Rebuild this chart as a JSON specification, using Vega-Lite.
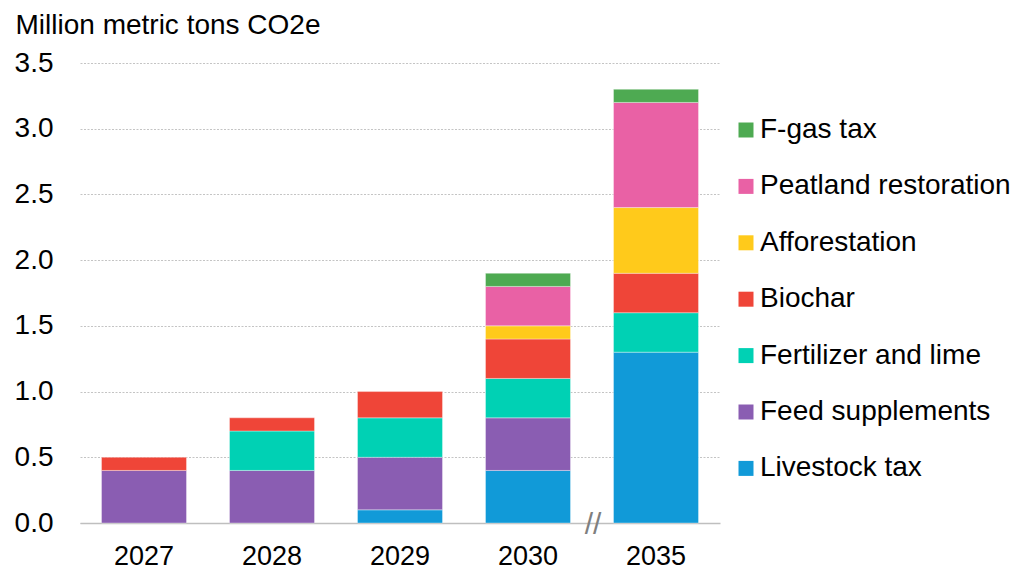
{
  "$schema": "https://vega.github.io/schema/vega-lite/v6.json",
  "autosize": {"type": "none"},
  "width": 640,
  "height": 460,
  "padding": {"left": 80, "top": 63, "right": 306, "bottom": 46},
  "background": "white",
  "config": {
    "view": {"stroke": null},
    "font": "Liberation Sans"
  },
  "layer": [
    {
      "data": {
        "values": [
          {"year": "2027", "category": "Feed supplements", "rank": 2, "value": 0.4},
          {"year": "2027", "category": "Biochar", "rank": 4, "value": 0.1},
          {"year": "2028", "category": "Feed supplements", "rank": 2, "value": 0.4},
          {"year": "2028", "category": "Fertilizer and lime", "rank": 3, "value": 0.3},
          {"year": "2028", "category": "Biochar", "rank": 4, "value": 0.1},
          {"year": "2029", "category": "Livestock tax", "rank": 1, "value": 0.1},
          {"year": "2029", "category": "Feed supplements", "rank": 2, "value": 0.4},
          {"year": "2029", "category": "Fertilizer and lime", "rank": 3, "value": 0.3},
          {"year": "2029", "category": "Biochar", "rank": 4, "value": 0.2},
          {"year": "2030", "category": "Livestock tax", "rank": 1, "value": 0.4},
          {"year": "2030", "category": "Feed supplements", "rank": 2, "value": 0.4},
          {"year": "2030", "category": "Fertilizer and lime", "rank": 3, "value": 0.3},
          {"year": "2030", "category": "Biochar", "rank": 4, "value": 0.3},
          {"year": "2030", "category": "Afforestation", "rank": 5, "value": 0.1},
          {"year": "2030", "category": "Peatland restoration", "rank": 6, "value": 0.3},
          {"year": "2030", "category": "F-gas tax", "rank": 7, "value": 0.1},
          {"year": "2035", "category": "Livestock tax", "rank": 1, "value": 1.3},
          {"year": "2035", "category": "Fertilizer and lime", "rank": 3, "value": 0.3},
          {"year": "2035", "category": "Biochar", "rank": 4, "value": 0.3},
          {"year": "2035", "category": "Afforestation", "rank": 5, "value": 0.5},
          {"year": "2035", "category": "Peatland restoration", "rank": 6, "value": 0.8},
          {"year": "2035", "category": "F-gas tax", "rank": 7, "value": 0.1}
        ]
      },
      "mark": {"type": "bar", "stroke": "white", "strokeOpacity": 0.35, "strokeWidth": 1},
      "encoding": {
        "x": {
          "field": "year",
          "type": "nominal",
          "scale": {"paddingInner": 0.336, "paddingOuter": 0.168},
          "axis": {
            "title": null,
            "labelAngle": 0,
            "labelFontSize": 27,
            "labelColor": "black",
            "labelPadding": 20,
            "ticks": false,
            "domainColor": "#bfbfbf",
            "domainWidth": 1.5
          }
        },
        "y": {
          "field": "value",
          "type": "quantitative",
          "aggregate": "sum",
          "stack": "zero",
          "scale": {"domain": [0, 3.5], "nice": false},
          "axis": {
            "values": [0, 0.5, 1, 1.5, 2, 2.5, 3, 3.5],
            "format": ".1f",
            "domain": false,
            "ticks": false,
            "labelFontSize": 28,
            "labelColor": "black",
            "labelPadding": 27,
            "gridColor": "#c4c4c4",
            "gridDash": [2, 1.5],
            "gridWidth": 1,
            "title": "Million metric tons CO2e",
            "titleAngle": 0,
            "titleAlign": "left",
            "titleBaseline": "alphabetic",
            "titleX": -65,
            "titleY": -30,
            "titleFontSize": 28,
            "titleFontWeight": "normal",
            "titleColor": "black"
          }
        },
        "color": {
          "field": "category",
          "type": "nominal",
          "scale": {
            "domain": ["Livestock tax", "Feed supplements", "Fertilizer and lime", "Biochar", "Afforestation", "Peatland restoration", "F-gas tax"],
            "range": ["#119ad8", "#8a5db2", "#00d1b4", "#ef4538", "#ffca1b", "#e961a5", "#4eaa52"]
          },
          "legend": {
            "title": null,
            "orient": "none",
            "legendX": 652,
            "legendY": 53,
            "values": ["F-gas tax", "Peatland restoration", "Afforestation", "Biochar", "Fertilizer and lime", "Feed supplements", "Livestock tax"],
            "symbolType": "square",
            "symbolSize": 225,
            "symbolStrokeWidth": 0,
            "labelFontSize": 28,
            "labelColor": "black",
            "labelOffset": 0,
            "rowPadding": 28.4,
            "labelLimit": 400
          }
        },
        "order": {"field": "rank", "type": "quantitative", "sort": "ascending"}
      }
    },
    {
      "data": {"values": [{"year": "2035", "value": 0, "mark": "//"}]},
      "mark": {"type": "text", "dx": -63, "dy": 2, "fontSize": 30, "letterSpacing": 1, "color": "#7f7f7f", "baseline": "middle", "align": "center"},
      "encoding": {
        "x": {"field": "year", "type": "nominal"},
        "y": {"field": "value", "type": "quantitative"},
        "text": {"field": "mark"}
      }
    }
  ]
}
